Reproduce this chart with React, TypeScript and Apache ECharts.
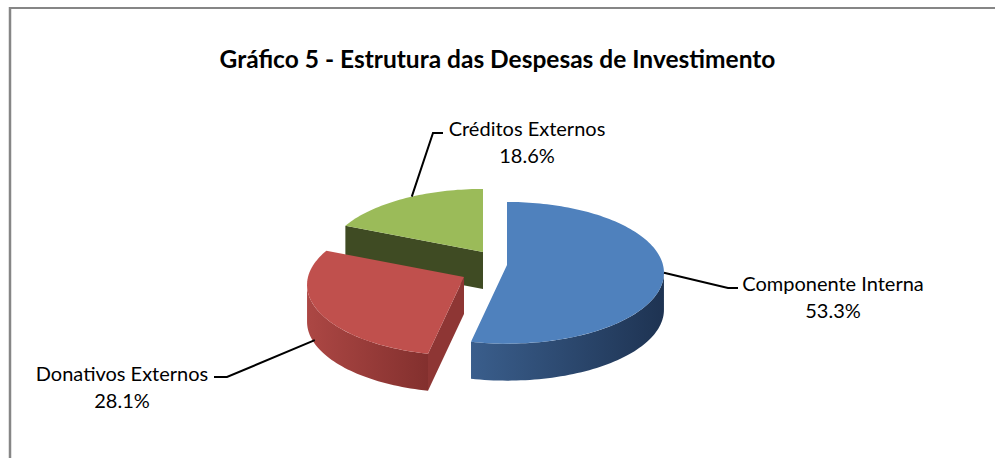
import React, { useEffect, useRef } from 'react';
import * as echarts from 'echarts';

// ---- data ----
const titleText = 'Gráfico 5 - Estrutura das Despesas de Investimento';
const categories = ['Componente Interna', 'Donativos Externos', 'Créditos Externos'];
const values = [53.3, 28.1, 18.6];

// ---- styles / layout ----
const palette = [
  { top: '#4F81BD', wall: ['#3A5E8C', '#1E3352'], cut: '#2C4A70' },
  { top: '#C0504D', wall: ['#AC4744', '#83302E'], cut: '#8E3634' },
  { top: '#9BBB59', wall: ['#5B6F31', '#3A4620'], cut: '#3F4B23' },
];

const geo = {
  rx: 156,
  ry: 70,
  gamma: 0.11,
  depth: 37,
  apex: [
    [507, 265],
    [464, 277],
    [483, 252],
  ],
};

const labelLayout = [
  { angle: 96.3, depthFrac: 0, elbow: [728, 288], end: [738, 288], text: [833, 296.5] },
  { angle: 246, depthFrac: 0.9, elbow: [227, 377], end: [214, 377], text: [122, 386] },
  { angle: 330, depthFrac: 0, elbow: [433, 133], end: [443, 133], text: [527, 141.5] },
];

const FONT = 'Lato, "Open Sans", sans-serif';

export default function App() {
  const ref = useRef<HTMLDivElement>(null);

  useEffect(() => {
    if (!ref.current) return;
    const chart = echarts.init(ref.current, undefined, { renderer: 'svg' });
    const total = values.reduce((a, b) => a + b, 0);
    const starts: number[] = [];
    let acc = 0;
    values.forEach((v) => {
      starts.push((acc / total) * 360);
      acc += v;
    });
    const mids = values.map((v, i) => starts[i] + ((v / total) * 360) / 2);
    const depthKey = mids.map((m) => -Math.cos((m * Math.PI) / 180));
    const rank = depthKey.map((d) => depthKey.filter((o) => o < d).length);

    const renderItem = (params: any, api: any) => {
      const i = params.dataIndex;
      const v = api.value(1);
      const a0 = starts[i];
      const a1 = a0 + (v / total) * 360;
      const [ax, ay] = geo.apex[i];
      const col = palette[i];
      const base = rank[i] * 10;
      const P = (deg: number, r = 1, dz = 0) => {
        const t = (deg * Math.PI) / 180;
        const X = r * Math.sin(t);
        const Z = -r * Math.cos(t);
        const s = 1 / (1 - geo.gamma * Z);
        return [ax + X * geo.rx * s, ay + Z * geo.ry * s + dz];
      };
      const arc = (from: number, to: number, dz: number) => {
        const n = Math.max(2, Math.ceil(Math.abs(to - from) / 1.5));
        const pts: number[][] = [];
        for (let k = 0; k <= n; k++) pts.push(P(from + ((to - from) * k) / n, 1, dz));
        return pts;
      };
      const children: any[] = [];
      const cutFace = (deg: number, normalDeg: number) => {
        if (-Math.cos((normalDeg * Math.PI) / 180) > 0.02) {
          children.push({
            type: 'polygon',
            z2: base + 1,
            shape: { points: [[ax, ay], P(deg), P(deg, 1, geo.depth), [ax, ay + geo.depth]] },
            style: { fill: col.cut },
          });
        }
      };
      cutFace(a0, a0 - 90);
      cutFace(a1, a1 + 90);
      const sil = (Math.acos(-geo.gamma) * 180) / Math.PI;
      const w0 = Math.max(a0, sil);
      const w1 = Math.min(a1, 360 - sil);
      if (w1 > w0) {
        const pts = arc(w0, w1, 0).concat(arc(w1, w0, geo.depth));
        children.push({
          type: 'polygon',
          z2: base + 2,
          shape: { points: pts },
          style: {
            fill: new echarts.graphic.LinearGradient(0, 0, 1, 0, [
              { offset: 0, color: col.wall[0] },
              { offset: 1, color: col.wall[1] },
            ]),
          },
        });
      }
      children.push({
        type: 'polygon',
        z2: base + 3,
        shape: { points: [[ax, ay]].concat(arc(a0, a1, 0)) },
        style: { fill: col.top },
      });
      const L = labelLayout[i];
      const start = P(L.angle, 1, geo.depth * L.depthFrac);
      children.push({
        type: 'polyline',
        z2: 100,
        shape: { points: [start, L.elbow, L.end] },
        style: { stroke: '#000', lineWidth: 2, fill: null },
      });
      children.push({
        type: 'text',
        z2: 101,
        x: L.text[0],
        y: L.text[1],
        style: {
          text: categories[i] + '\n' + v.toFixed(1) + '%',
          fill: '#000',
          fontFamily: FONT,
          fontSize: 20,
          lineHeight: 27,
          align: 'center',
          verticalAlign: 'middle',
        },
      });
      return { type: 'group', children };
    };

    chart.setOption({
      animation: false,
      backgroundColor: '#fff',
      title: {
        text: titleText,
        left: 'center',
        top: 45,
        padding: 0,
        textStyle: {
          fontFamily: FONT,
          fontWeight: 'bold',
          fontSize: 24.5,
          lineHeight: 26,
          color: '#000',
        },
      },
      graphic: [
        {
          type: 'line',
          shape: { x1: 9, y1: 8, x2: 995, y2: 8 },
          style: { stroke: '#868686', lineWidth: 2 },
        },
        {
          type: 'line',
          shape: { x1: 10, y1: 7, x2: 10, y2: 458 },
          style: { stroke: '#868686', lineWidth: 2.5 },
        },
      ],
      series: [
        {
          type: 'custom',
          coordinateSystem: 'none',
          data: values.map((v, i) => [i, v]),
          renderItem,
        },
      ],
    });
    return () => chart.dispose();
  }, []);

  return (
    <div
      ref={ref}
      style={{ position: 'fixed', left: 0, top: 0, width: 995, height: 458, background: '#fff' }}
    />
  );
}
